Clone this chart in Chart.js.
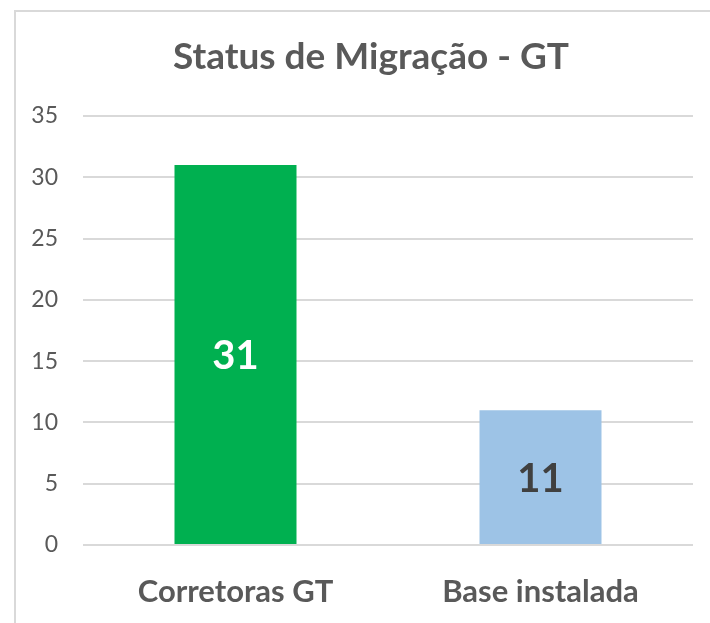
<!DOCTYPE html>
<html>
<head>
<meta charset="utf-8">
<script src="https://cdn.jsdelivr.net/npm/chart.js@4/dist/chart.umd.min.js"></script>
<style>
  html, body { margin: 0; padding: 0; background: #fff; }
  body { width: 710px; height: 623px; position: relative; overflow: hidden; }
  #frame { position: absolute; left: 14px; top: 10px; width: 760px; height: 680px; border: 2px solid #d9d9d9; box-sizing: border-box; }
  #wrap { position: absolute; left: 0; top: 0; width: 710px; height: 623px; }
</style>
</head>
<body>
<div id="frame"></div>
<div id="wrap"><canvas id="chart"></canvas></div>
<script>
const title = "Status de Migração - GT";
const categories = ["Corretoras GT", "Base instalada"];
const values = [31, 11];
const barColors = ["#00b050", "#9dc3e6"];
const labelColors = ["#ffffff", "#404040"];
const yTicks = [0, 5, 10, 15, 20, 25, 30, 35];

const FONT = "Lato, 'Open Sans', sans-serif";

// draws the value in the middle of each bar
const valueLabels = {
  id: "valueLabels",
  afterDatasetsDraw(chart) {
    const ctx = chart.ctx;
    const meta = chart.getDatasetMeta(0);
    ctx.save();
    ctx.font = "bold 40px " + FONT;
    ctx.textAlign = "center";
    ctx.textBaseline = "middle";
    meta.data.forEach((bar, i) => {
      ctx.fillStyle = labelColors[i];
      ctx.fillText(String(values[i]), bar.x, (bar.y + bar.base) / 2 + 2);
    });
    ctx.restore();
  },
};

// title is centred on the (wider) chart frame, not on the canvas
const frameTitle = {
  id: "frameTitle",
  afterDraw(chart) {
    const ctx = chart.ctx;
    ctx.save();
    ctx.font = "bold 37px " + FONT;
    ctx.fillStyle = "#595959";
    ctx.textAlign = "center";
    ctx.textBaseline = "middle";
    ctx.fillText(title, 371, 57);
    ctx.restore();
  },
};

new Chart(document.getElementById("chart"), {
  type: "bar",
  data: {
    labels: categories,
    datasets: [
      {
        data: values,
        backgroundColor: barColors,
        borderWidth: 0,
        categoryPercentage: 1,
        barPercentage: 0.4,
      },
    ],
  },
  options: {
    responsive: true,
    maintainAspectRatio: false,
    animation: false,
    layout: { padding: { left: 0, right: 17, top: 116, bottom: 0 } },
    plugins: {
      legend: { display: false },
      tooltip: { enabled: false },
      title: { display: false },
    },
    scales: {
      x: {
        grid: { display: false },
        border: { display: false },
        ticks: {
          color: "#595959",
          font: { family: FONT, size: 31, weight: "bold" },
          padding: 20,
          maxRotation: 0,
        },
        afterFit(scale) { scale.height = 78; },
      },
      y: {
        min: 0,
        max: 35,
        afterBuildTicks(scale) { scale.ticks = yTicks.map((v) => ({ value: v })); },
        grid: { color: "#d9d9d9", lineWidth: 2, drawTicks: false },
        border: { display: false },
        ticks: {
          color: "#595959",
          font: { family: FONT, size: 23 },
          padding: 25,
        },
        afterFit(scale) { scale.width = 83; },
      },
    },
  },
  plugins: [valueLabels, frameTitle],
});
</script>
</body>
</html>
